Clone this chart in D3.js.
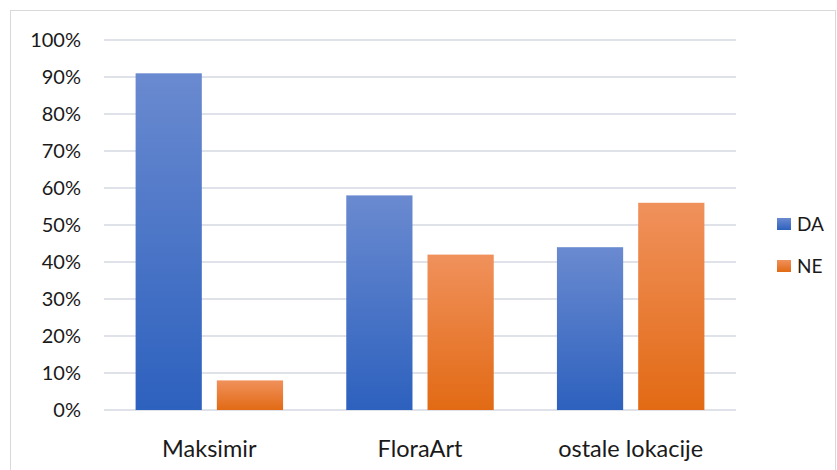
<!DOCTYPE html>
<html><head><meta charset="utf-8">
<script src="https://cdn.jsdelivr.net/npm/d3@7"></script>
<style>body{margin:0;background:#fff}svg{display:block}</style>
</head><body>
<script>
const categories = ["Maksimir", "FloraArt", "ostale lokacije"];
const seriesNames = ["DA", "NE"];
const daValues = [0.91, 0.58, 0.44];
const neValues = [0.08, 0.42, 0.56];
const yTicks = [0, 0.1, 0.2, 0.3, 0.4, 0.5, 0.6, 0.7, 0.8, 0.9, 1.0];

const W = 837, H = 470;
const font = "Lato, 'Open Sans', sans-serif";
const svg = d3.select("body").append("svg").attr("width", W).attr("height", H);

const defs = svg.append("defs");
const grads = [["gDA", "#6a8ad0", "#2d61be"], ["gNE", "#f0915c", "#e26a14"]];
grads.forEach(([id, top, bot]) => {
  const g = defs.append("linearGradient").attr("id", id).attr("x1", 0).attr("y1", 0).attr("x2", 0).attr("y2", 1);
  g.append("stop").attr("offset", "0%").attr("stop-color", top);
  g.append("stop").attr("offset", "100%").attr("stop-color", bot);
});

svg.append("rect").attr("x", 10.5).attr("y", 10.5).attr("width", W - 12).attr("height", H + 10)
  .attr("fill", "#fff").attr("stroke", "#d9d9d9").attr("stroke-width", 1);

const x0 = d3.scaleBand().domain(categories).range([104, 736]).paddingInner(0.3).paddingOuter(0.15);
const x1 = d3.scaleBand().domain(seriesNames).range([0, x0.bandwidth()]).paddingInner(0.185);
const y = d3.scaleLinear().domain([0, 1]).range([410, 40]);

const gridG = svg.append("g");
gridG.selectAll("line").data(yTicks).join("line")
  .attr("x1", 104).attr("x2", 736).attr("y1", d => y(d)).attr("y2", d => y(d))
  .attr("stroke", "#dfe2e8").attr("stroke-width", 2);

const yAxis = d3.axisLeft(y).tickValues(yTicks).tickFormat(d3.format(".0%")).tickSize(0).tickPadding(0);
const ya = svg.append("g").attr("transform", "translate(81,0)").call(yAxis);
ya.select(".domain").remove();
ya.selectAll("text").attr("font-family", font).attr("font-size", 20).attr("fill", "#1a1a1a");

const data = categories.map((c, i) => ({ c, vals: [["DA", daValues[i]], ["NE", neValues[i]]] }));
const groups = svg.append("g").selectAll("g").data(data).join("g")
  .attr("transform", d => `translate(${x0(d.c)},0)`);
groups.selectAll("rect").data(d => d.vals).join("rect")
  .attr("x", d => x1(d[0])).attr("width", x1.bandwidth())
  .attr("y", d => y(d[1])).attr("height", d => y(0) - y(d[1]))
  .attr("fill", d => d[0] === "DA" ? "url(#gDA)" : "url(#gNE)");

const xAxis = d3.axisBottom(x0).tickSize(0).tickPadding(0);
const xa = svg.append("g").attr("transform", "translate(0,440)").call(xAxis);
xa.select(".domain").remove();
xa.selectAll("text").attr("font-family", font).attr("font-size", 23.5).attr("fill", "#1a1a1a");

const legend = svg.append("g");
const legY = d3.scalePoint().domain(seriesNames).range([224, 266]);
seriesNames.forEach((s, i) => {
  const gy = legY(s);
  legend.append("rect").attr("x", 777).attr("y", gy - 6).attr("width", 14).attr("height", 12)
    .attr("fill", i === 0 ? "url(#gDA)" : "url(#gNE)");
  legend.append("text").attr("x", 797).attr("y", gy).attr("dy", "0.35em")
    .attr("font-family", font).attr("font-size", 19).attr("fill", "#1a1a1a").text(s);
});
</script>
</body></html>
